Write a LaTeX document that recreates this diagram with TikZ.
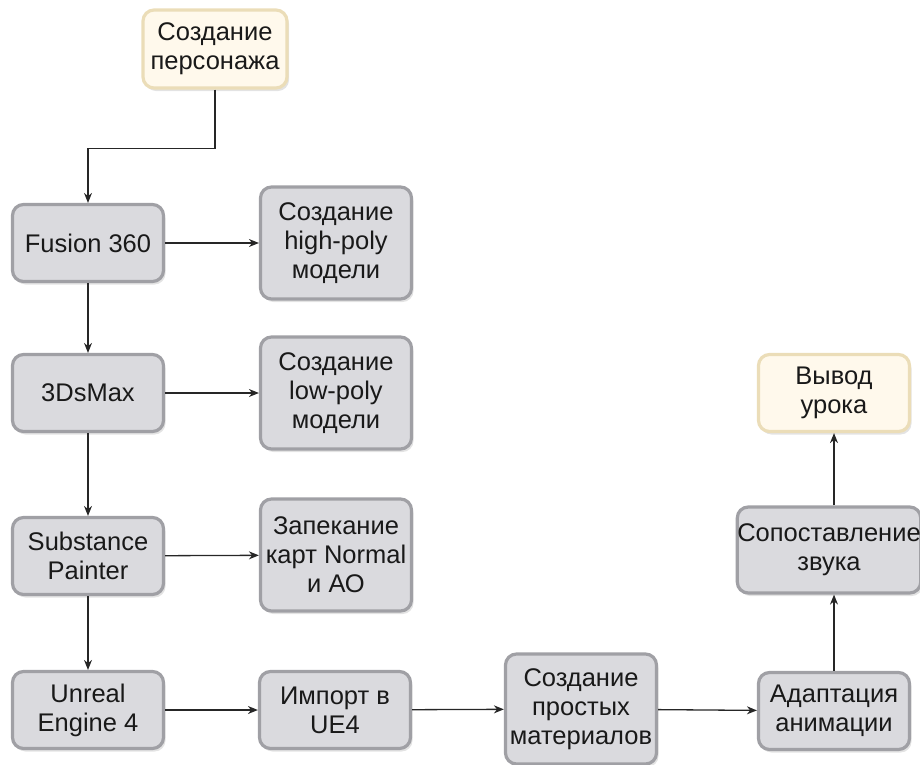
\documentclass[tikz,border=0pt]{standalone}
\usepackage{fontspec}
\setmainfont{Liberation Sans}
\usepackage{tikz}
\usetikzlibrary{arrows.meta,shapes,shadows,positioning}
\definecolor{boxfill}{HTML}{DADADE}
\definecolor{boxline}{HTML}{A0A0A5}
\definecolor{endfill}{HTML}{FFF9EC}
\definecolor{endline}{HTML}{EBDDB8}
\definecolor{wire}{HTML}{262626}
\tikzset{
  stage/.style={draw=boxline, fill=boxfill, line width=3.2pt, rounded corners=11pt,
    align=center, inner sep=1pt, minimum width=151, minimum height=77,
    font=\fontsize{25.5}{29}\selectfont, text=black!90,
    drop shadow={opacity=0.22, shadow xshift=2pt, shadow yshift=-3pt}},
  tall/.style={stage, minimum height=112},
  term/.style={stage, draw=endline, fill=endfill},
  wirearrow/.style={draw=wire, line width=1.3pt, -{Stealth[length=10pt,width=8pt]}}
}
\begin{document}
\begin{tikzpicture}[x=1pt,y=-1pt]
\useasboundingbox (0,0) rectangle (920,764);
\node[term, minimum width=144, minimum height=78] (T) at (215,49) {Создание\\персонажа};
\node[stage] (F) at (88,243) {Fusion 360};
\node[tall] (H) at (336,243) {Создание\\high-poly\\модели};
\node[stage] (M) at (88,393) {3DsMax};
\node[tall] (L) at (336,393) {Создание\\low-poly\\модели};
\node[stage] (S) at (88,556) {Substance\\Painter};
\node[tall] (Z) at (336,555) {Запекание\\карт Normal\\и АО};
\node[stage] (U) at (88,710) {Unreal\\Engine 4};
\node[stage] (I) at (335,710) {Импорт в\\UE4};
\node[tall, minimum height=110] (P) at (581,709) {Создание\\простых\\материалов};
\node[stage] (A) at (834,711) {Адаптация\\анимации};
\node[stage, inner xsep=0pt, minimum width=181, minimum height=86] (C) at (829,550) {Сопоставление\\звука};
\node[term] (V) at (834,393) {Вывод\\урока};
\draw[wirearrow] (T.south) -- ++(0,59) -| (F.north);
\draw[wirearrow] (F) -- (H);
\draw[wirearrow] (M) -- (L);
\draw[wirearrow] (S) -- (Z);
\draw[wirearrow] (F) -- (M);
\draw[wirearrow] (M) -- (S);
\draw[wirearrow] (S) -- (U);
\draw[wirearrow] (U) -- (I);
\draw[wirearrow] (I) -- (P);
\draw[wirearrow] (P) -- (A);
\draw[wirearrow] (A.north) -- (A.north |- C.south);
\draw[wirearrow] (C.north -| V.south) -- (V.south);
\end{tikzpicture}
\end{document}
